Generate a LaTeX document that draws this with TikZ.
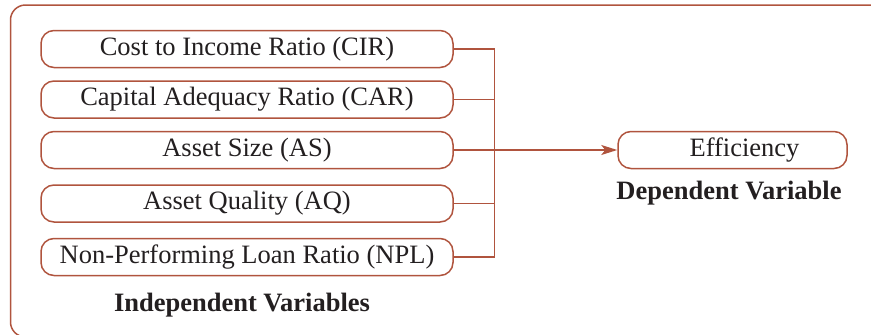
\documentclass[tikz,border=0pt]{standalone}
\usepackage{fontspec}
\setmainfont{Liberation Serif}
\usetikzlibrary{arrows.meta}
\definecolor{lc}{RGB}{176,84,62}
\definecolor{tc}{RGB}{35,31,32}
\begin{document}
\begin{tikzpicture}[x=1pt,y=-1pt,
  var/.style={draw=lc,line width=1.5pt,rounded corners=13pt,minimum width=412pt,minimum height=37pt,inner sep=0pt,font=\fontsize{26.5}{29}\selectfont,text=tc},
  effbox/.style={draw=lc,line width=1.5pt,rounded corners=13pt,minimum width=229pt,minimum height=37pt,inner sep=0pt,font=\fontsize{26.5}{29}\selectfont,text=tc},
  title/.style={font=\fontsize{26.5}{29}\selectfont\bfseries,text=tc,inner sep=0pt},
  conn/.style={draw=lc,line width=1.5pt}]
\useasboundingbox (0,0) rectangle (871,335);
\clip (0,0) rectangle (871,335);
\draw[conn,rounded corners=15pt] (10.5,5) rectangle (900,337);
\node[var] (cir) at (247,49) {Cost to Income Ratio (CIR)};
\node[var] (car) at (247,99.5) {Capital Adequacy Ratio (CAR)};
\node[var] (as) at (247,150) {Asset Size (AS)};
\node[var] (aq) at (247,203.5) {Asset Quality (AQ)};
\node[var] (npl) at (247,257) {Non-Performing Loan Ratio (NPL)};
\node[effbox] (eff) at (732.5,150) {\hspace*{24pt}Efficiency};
\node[title] (dv) at (729,193) {Dependent Variable};
\node[title] (iv) at (242,305) {Independent Variables};
\coordinate (bus) at (494.7,0);
\draw[conn] (cir.east) -- (cir.east -| bus) -- (npl.east -| bus) -- (npl.east);
\draw[conn] (car.east) -- (car.east -| bus);
\draw[conn] (aq.east) -- (aq.east -| bus);
\draw[conn,-{Stealth[length=16pt,width=10pt,inset=4pt]}] (as.east) -- (eff.west);
\end{tikzpicture}
\end{document}
